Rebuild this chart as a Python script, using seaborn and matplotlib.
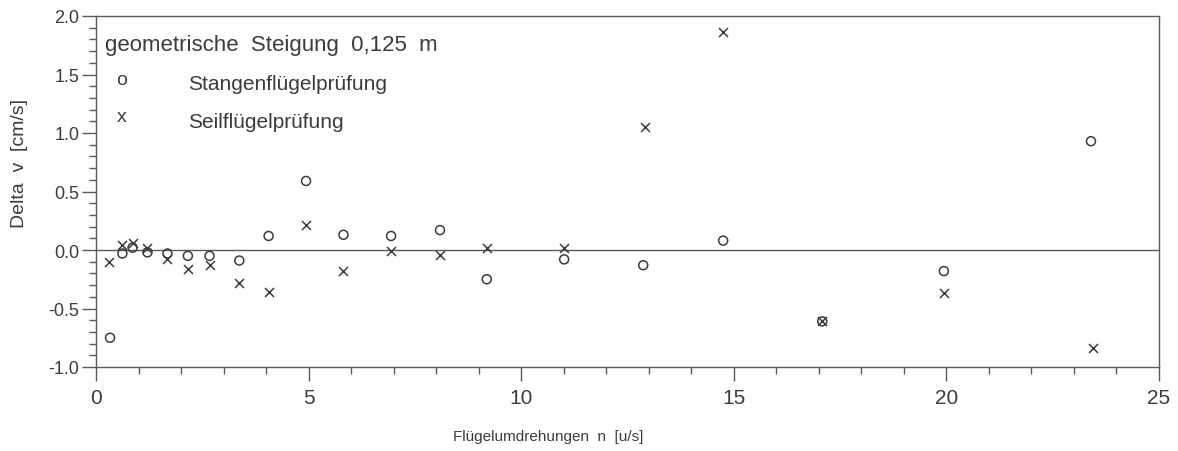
import numpy as np
import pandas as pd
import matplotlib
matplotlib.use("Agg")
import matplotlib.pyplot as plt
from matplotlib.ticker import MultipleLocator, FormatStrFormatter
import seaborn as sns

# data
n_stangen = [0.33, 0.62, 0.86, 1.21, 1.68, 2.16, 2.67, 3.37, 4.06, 4.94,
             5.82, 6.94, 8.09, 9.19, 11.01, 12.87, 14.75, 17.08, 19.94, 23.40]
dv_stangen = [-0.75, -0.03, 0.02, -0.02, -0.03, -0.05, -0.05, -0.09, 0.12, 0.59,
              0.13, 0.12, 0.17, -0.25, -0.08, -0.13, 0.08, -0.61, -0.18, 0.93]
n_seil = [0.31, 0.62, 0.86, 1.21, 1.68, 2.16, 2.67, 3.37, 4.06, 4.94,
          5.82, 6.94, 8.09, 9.19, 11.01, 12.91, 14.74, 17.08, 19.94, 23.44]
dv_seil = [-0.10, 0.04, 0.06, 0.02, -0.08, -0.16, -0.13, -0.28, -0.36, 0.21,
           -0.18, -0.01, -0.04, 0.02, 0.02, 1.05, 1.86, -0.61, -0.37, -0.84]

title_text = "geometrische  Steigung  0,125  m"
series_names = ["Stangenflügelprüfung", "Seilflügelprüfung"]
x_label = "Flügelumdrehungen  n  [u/s]"
y_label = "Delta  v  [cm/s]"

sns.set_style("ticks")
plt.rcParams['font.family'] = ['Liberation Sans', 'DejaVu Sans']
plt.rcParams['axes.unicode_minus'] = False

ink = "#3c3c3c"
axc = "#5a5a5a"

fig = plt.figure(figsize=(11.78, 4.52), dpi=100)
ax = fig.add_axes([96/1178, 1-368/452, (1159-96)/1178, (368-17)/452])

df_s = pd.DataFrame({"n": n_stangen, "dv": dv_stangen})
df_x = pd.DataFrame({"n": n_seil, "dv": dv_seil})

sns.scatterplot(data=df_s, x="n", y="dv", ax=ax, marker="o", s=42,
                facecolor="none", edgecolor=ink, linewidth=1.1, zorder=3)
sns.scatterplot(data=df_x, x="n", y="dv", ax=ax, marker="x", s=42,
                color=ink, linewidth=1.1, zorder=3)

ax.axhline(0, color=axc, lw=1.0, zorder=1)

ax.set_xlim(0, 25)
ax.set_ylim(-1.0, 2.0)
ax.xaxis.set_major_locator(MultipleLocator(5))
ax.xaxis.set_minor_locator(MultipleLocator(1))
ax.yaxis.set_major_locator(MultipleLocator(0.5))
ax.yaxis.set_minor_locator(MultipleLocator(0.1))
ax.yaxis.set_major_formatter(FormatStrFormatter("%.1f"))
ax.xaxis.set_major_formatter(FormatStrFormatter("%d"))

for sp in ax.spines.values():
    sp.set_color(axc)
    sp.set_linewidth(1.0)

ax.tick_params(axis="both", which="major", length=10, width=1.0, color=axc, labelcolor=ink)
ax.tick_params(axis="both", which="minor", length=5, width=1.0, color=axc)
ax.tick_params(axis="x", which="major", labelsize=15, pad=5)
ax.tick_params(axis="y", which="major", labelsize=13, pad=2)

ax.set_xlabel(x_label, fontsize=11, color=ink)
ax.set_ylabel(y_label, fontsize=14, color=ink)
ax.xaxis.set_label_coords(0.425, -0.177)
ax.yaxis.set_label_coords(-0.064, 0.584)

ax.text(0.0085, 0.92, title_text, transform=ax.transAxes, fontsize=16,
        color=ink, va="center", ha="left")
ax.text(0.024, 0.818, "o", transform=ax.transAxes, fontsize=14,
        color=ink, va="center", ha="center")
ax.text(0.0866, 0.809, series_names[0], transform=ax.transAxes, fontsize=15,
        color=ink, va="center", ha="left")
ax.text(0.024, 0.715, "x", transform=ax.transAxes, fontsize=14,
        color=ink, va="center", ha="center")
ax.text(0.0866, 0.70, series_names[1], transform=ax.transAxes, fontsize=15,
        color=ink, va="center", ha="left")

fig.savefig("out.png", dpi=100)
